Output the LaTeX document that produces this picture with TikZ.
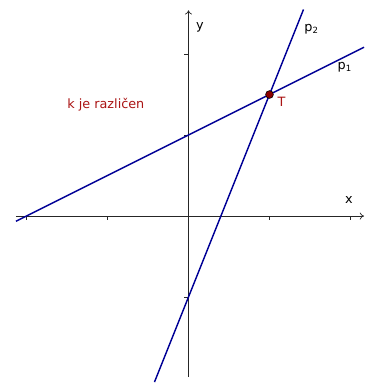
\documentclass[tikz,border=0pt]{standalone}
\usepackage{fontspec}
\setmainfont{DejaVu Sans}
\usepackage{tikz}
\usetikzlibrary{arrows.meta,positioning,calc}

\definecolor{linblue}{RGB}{0,0,150}
\definecolor{ptred}{RGB}{140,0,0}
\definecolor{txtred}{RGB}{170,20,20}

\begin{document}
\begin{tikzpicture}[
  x=2cm, y=2cm,
  axis/.style={-{To[length=3pt,width=5pt]}, line width=0.5pt, black!85},
  tick/.style={line width=0.4pt, black!85},
  line/.style={line width=1pt, linblue},
  lbl/.style={font=\small, inner sep=1pt},
  pt/.style={circle, draw=black, fill=ptred, line width=0.4pt, inner sep=0pt, minimum size=5.5pt}
]
\useasboundingbox (-2.327,-2.086) rectangle (2.167,2.667);

% axes
\coordinate (xa) at (-2.13,0);
\coordinate (xb) at (2.167,0);
\coordinate (ya) at (0,-1.99);
\coordinate (yb) at (0,2.54);
\draw[axis] (xa) -- (xb);
\draw[axis] (ya) -- (yb);
\foreach \i in {-2,-1,1,2}
  \draw[tick] (\i,0) -- (\i,-0.05);
\foreach \j in {-1,1,2}
  \draw[tick] (0,\j) -- (-0.05,\j);
\node[lbl] (xlab) at (1.98,0.2) {x};
\node[lbl] (ylab) at (0.14,2.33) {y};

% lines
\coordinate (p1a) at (-2.13,-0.065);
\coordinate (p1b) at (2.167,2.0835);
\coordinate (p2a) at (-0.42,-2.05);
\coordinate (p2b) at (1.42,2.55);
\draw[line] (p1a) -- (p1b);
\draw[line] (p2a) -- (p2b);
\node[lbl] (p1lab) at (1.93,1.84) {p\textsubscript{1}};
\node[lbl] (p2lab) at (1.52,2.3) {p\textsubscript{2}};

% intersection
\node[pt] (T) at (1,1.5) {};
\node[lbl, text=txtred] (Tlab) at (1.15,1.41) {T};

\node[lbl, text=txtred] (note) at (-1.02,1.38) {k je različen};
\end{tikzpicture}
\end{document}
